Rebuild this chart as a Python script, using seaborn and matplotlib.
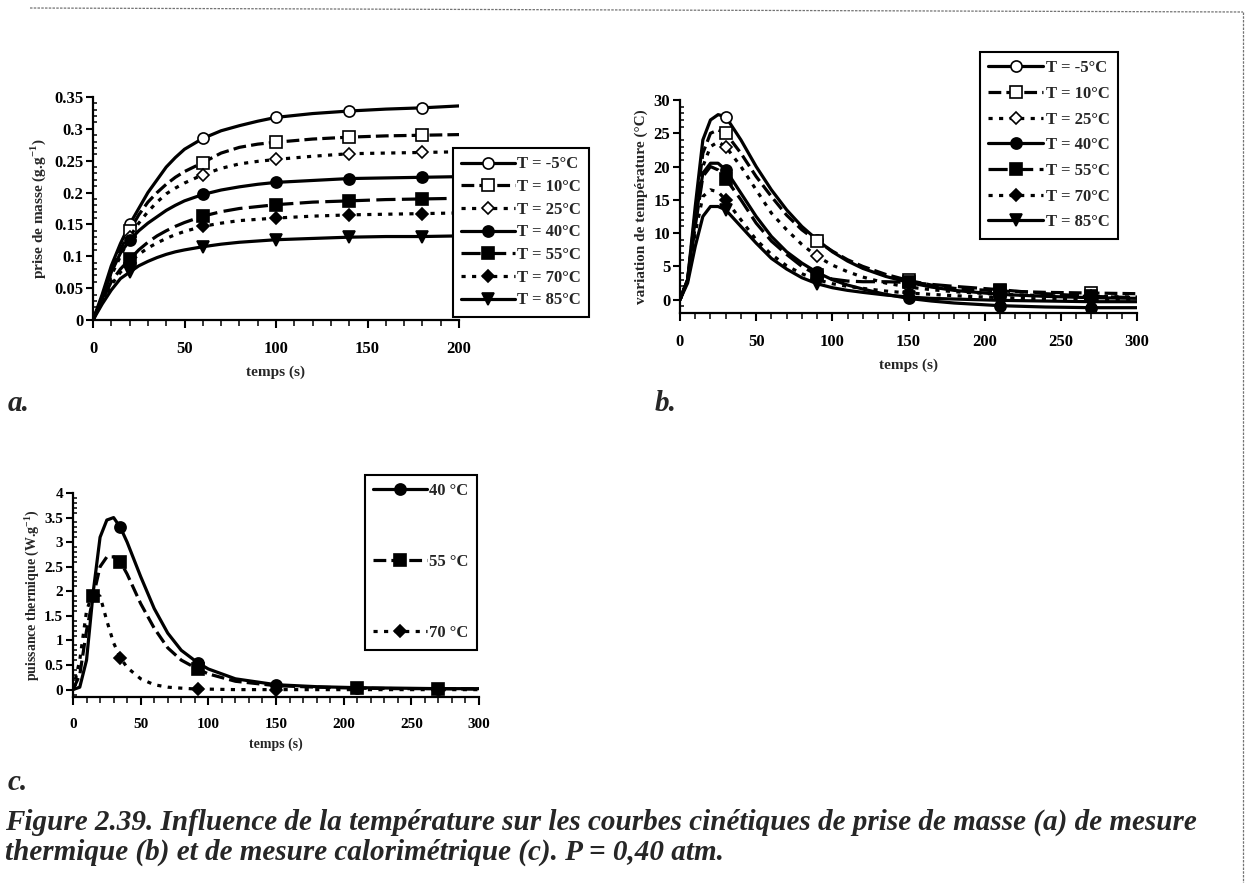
import seaborn as sns
import matplotlib.pyplot as plt
from matplotlib.ticker import MultipleLocator, FormatStrFormatter
from matplotlib.lines import Line2D

# ---- data ----
# a. prise de masse
t_a = [0, 5, 10, 15, 20, 25, 30, 35, 40, 45, 50, 60, 70, 80, 90, 100, 120, 140, 160, 180, 200]
m_m5 = [0, 0.04, 0.085, 0.12, 0.15, 0.175, 0.2, 0.22, 0.24, 0.255, 0.268, 0.285, 0.297, 0.305, 0.312, 0.318, 0.324, 0.328, 0.331, 0.333, 0.336]
m_10 = [0, 0.035, 0.075, 0.11, 0.14, 0.165, 0.185, 0.2, 0.213, 0.224, 0.233, 0.247, 0.262, 0.271, 0.276, 0.279, 0.284, 0.287, 0.289, 0.290, 0.291]
m_25 = [0, 0.032, 0.07, 0.1, 0.13, 0.152, 0.17, 0.185, 0.198, 0.207, 0.215, 0.228, 0.238, 0.245, 0.249, 0.252, 0.257, 0.261, 0.262, 0.263, 0.264]
m_40 = [0, 0.035, 0.075, 0.105, 0.125, 0.14, 0.152, 0.162, 0.172, 0.18, 0.187, 0.197, 0.204, 0.209, 0.213, 0.216, 0.219, 0.222, 0.223, 0.224, 0.225]
m_55 = [0, 0.03, 0.06, 0.08, 0.095, 0.11, 0.122, 0.132, 0.14, 0.147, 0.153, 0.163, 0.17, 0.175, 0.178, 0.181, 0.185, 0.187, 0.189, 0.190, 0.191]
m_70 = [0, 0.028, 0.055, 0.075, 0.09, 0.103, 0.113, 0.121, 0.128, 0.134, 0.139, 0.147, 0.152, 0.156, 0.158, 0.160, 0.163, 0.165, 0.166, 0.167, 0.168]
m_85 = [0, 0.025, 0.047, 0.065, 0.075, 0.085, 0.092, 0.098, 0.103, 0.107, 0.11, 0.115, 0.119, 0.122, 0.124, 0.126, 0.128, 0.13, 0.131, 0.131, 0.132]

# b. variation de temperature
t_b = [0, 5, 10, 15, 20, 25, 30, 40, 50, 60, 70, 80, 90, 100, 110, 120, 135, 150, 165, 180, 210, 240, 270, 300]
d_m5 = [0, 3, 14, 24, 27, 27.8, 27.5, 24, 20, 16.5, 13.5, 11, 9, 7.2, 5.8, 4.7, 3.5, 2.6, 1.9, 1.4, 0.8, 0.5, 0.3, 0.2]
d_10 = [0, 3, 13, 22, 25, 25.5, 25, 22, 18.5, 15.5, 12.7, 10.5, 8.8, 7.3, 6, 5, 3.8, 2.9, 2.2, 1.7, 1.3, 1.1, 1.0, 0.9]
d_25 = [0, 3, 12, 20, 23, 23.7, 23, 20, 16.5, 13, 10.5, 8.3, 6.5, 5.2, 4.2, 3.4, 2.5, 1.9, 1.5, 1.2, 0.8, 0.6, 0.5, 0.4]
d_40 = [0, 3, 12, 19, 20.5, 20.5, 19.5, 16, 12.5, 9.5, 7.2, 5.5, 4.1, 3.0, 2.2, 1.6, 0.8, 0.2, -0.2, -0.5, -0.9, -1.1, -1.2, -1.2]
d_55 = [0, 3, 11, 18.5, 20, 19.5, 18.2, 15, 11.5, 8.8, 6.8, 5.0, 3.7, 3.1, 2.8, 2.7, 2.7, 2.6, 2.3, 2.0, 1.5, 0.9, 0.5, 0.3]
d_70 = [0, 3, 10, 15.5, 16.5, 16.2, 15, 12, 9, 6.8, 5.1, 3.9, 3.0, 2.4, 2.0, 1.7, 1.3, 1.0, 0.8, 0.6, 0.3, 0.1, 0.0, 0.0]
d_85 = [0, 2.5, 8, 12.5, 14, 14, 13.5, 11, 8.5, 6.2, 4.6, 3.3, 2.4, 1.8, 1.4, 1.1, 0.7, 0.4, 0.2, 0.1, -0.1, -0.2, -0.3, -0.3]

# c. puissance thermique
t_c = [0, 5, 10, 15, 20, 25, 30, 35, 40, 50, 60, 70, 80, 92, 100, 120, 150, 180, 210, 240, 270, 300]
p_40 = [0, 0.05, 0.6, 2.0, 3.1, 3.45, 3.5, 3.3, 3.0, 2.3, 1.65, 1.15, 0.8, 0.55, 0.42, 0.22, 0.1, 0.06, 0.04, 0.03, 0.02, 0.02]
p_55 = [0, 0.3, 1.2, 1.9, 2.5, 2.7, 2.7, 2.6, 2.35, 1.75, 1.25, 0.85, 0.6, 0.42, 0.32, 0.17, 0.08, 0.05, 0.03, 0.02, 0.02, 0.01]
p_70 = [0, 0.6, 1.6, 2.0, 1.9, 1.4, 0.95, 0.65, 0.45, 0.22, 0.1, 0.05, 0.03, 0.01, 0.01, 0.0, 0.0, 0.0, 0.0, 0.0, 0.0, 0.0]

labels_T = ['T = -5°C', 'T = 10°C', 'T = 25°C', 'T = 40°C', 'T = 55°C', 'T = 70°C', 'T = 85°C']
labels_c = ['40 °C', '55 °C', '70 °C']

# style per temperature: linestyle, marker, filled
SOLID = '-'
DASH = (0, (4, 1.6))
LDASH = (0, (6, 2))
DOT = (0, (1.3, 2.0))
styles = [(SOLID, 'o', False), (DASH, 's', False), (DOT, 'D', False),
          (SOLID, 'o', True), (LDASH, 's', True), (DOT, 'D', True), (SOLID, 'v', True)]

sns.set_theme(style='ticks')
plt.rcParams['font.family'] = ['Liberation Serif', 'DejaVu Serif']
plt.rcParams['font.weight'] = 'bold'
plt.rcParams['mathtext.fontset'] = 'custom'
plt.rcParams['mathtext.rm'] = 'Liberation Serif:bold'
plt.rcParams['mathtext.bf'] = 'Liberation Serif:bold'

fig = plt.figure(figsize=(12.48, 8.83), dpi=100)
W, H = 1248, 883


def px_axes(l, t, r, b):
    return fig.add_axes([l / W, 1 - b / H, (r - l) / W, (b - t) / H])


def draw(ax, t, y, st, idx, lab):
    ls, mk, filled = st
    sns.lineplot(x=t, y=y, ax=ax, color='black', lw=2.3, linestyle=ls,
                 marker=mk, markevery=idx, markersize=8 if mk != 'D' else 6.5,
                 markerfacecolor='black' if filled else 'white',
                 markeredgecolor='black', markeredgewidth=1.2, label=lab,
                 legend=False, sort=False)


def handle(st, lab):
    ls, mk, filled = st
    return Line2D([], [], color='black', lw=2.3, linestyle=ls, marker=mk,
                  markersize=8 if mk != 'D' else 6.5,
                  markerfacecolor='black' if filled else 'white',
                  markeredgecolor='black', markeredgewidth=1.2, label=lab)


def style_axes(ax, xmaj, xmin, ymaj, ymin, fmt):
    sns.despine(ax=ax)
    for s in ['left', 'bottom']:
        ax.spines[s].set_linewidth(1.6)
        ax.spines[s].set_color('black')
    ax.xaxis.set_major_locator(MultipleLocator(xmaj))
    ax.xaxis.set_minor_locator(MultipleLocator(xmin))
    ax.yaxis.set_major_locator(MultipleLocator(ymaj))
    ax.yaxis.set_minor_locator(MultipleLocator(ymin))
    ax.yaxis.set_major_formatter(FormatStrFormatter(fmt))
    ax.tick_params(axis='x', which='major', direction='out', length=6, width=1.5,
                   labelsize=12, pad=9, colors='black')
    ax.tick_params(axis='x', which='minor', direction='out', length=4, width=1.3)
    ax.tick_params(axis='y', which='major', direction='out', length=5, width=1.5,
                   labelsize=12, pad=2, colors='black')
    ax.tick_params(axis='y', which='minor', direction='in', length=3, width=1.3)
    for lbl in ax.get_xticklabels() + ax.get_yticklabels():
        lbl.set_fontweight('bold')


# ---- a ----
ax_a = px_axes(93, 97, 459, 320)
series_a = [m_m5, m_10, m_25, m_40, m_55, m_70, m_85]
for y, st, lab in zip(series_a, styles, labels_T):
    draw(ax_a, t_a, y, st, [4, 11, 15, 17, 19], lab)
ax_a.set_xlim(0, 200)
ax_a.set_ylim(0, 0.35)
style_axes(ax_a, 50, 10, 0.05, 0.01, '%g')
ax_a.set_xlabel('temps (s)', fontsize=11, fontweight='bold', labelpad=6)
ax_a.set_ylabel('prise de masse (g.g$^{-1}$)', fontsize=11, fontweight='bold', labelpad=4)

# ---- b ----
ax_b = px_axes(680, 100, 1137, 313)
series_b = [d_m5, d_10, d_25, d_40, d_55, d_70, d_85]
for y, st, lab in zip(series_b, styles, labels_T):
    draw(ax_b, t_b, y, st, [6, 12, 17, 20, 22], lab)
ax_b.set_xlim(0, 300)
ax_b.set_ylim(-2, 30)
style_axes(ax_b, 50, 10, 5, 1, '%g')
ax_b.set_xlabel('temps (s)', fontsize=11, fontweight='bold', labelpad=6)
ax_b.set_ylabel('variation de température (°C)', fontsize=11, fontweight='bold', labelpad=4)

# ---- c ----
ax_c = px_axes(73, 493, 479, 697)
styles_c = [styles[3], (DASH, 's', True), styles[5]]
series_c = [p_40, p_55, p_70]
marks_c = [[7, 13, 16, 18, 20], [3, 7, 13, 18, 20], [7, 13, 16]]
for y, st, lab, idx in zip(series_c, styles_c, labels_c, marks_c):
    draw(ax_c, t_c, y, st, idx, lab)
ax_c.set_xlim(0, 300)
ax_c.set_ylim(-0.15, 4)
style_axes(ax_c, 50, 10, 0.5, 0.1, '%g')
ax_c.tick_params(axis='both', which='major', labelsize=11)
ax_c.set_xlabel('temps (s)', fontsize=10, fontweight='bold', labelpad=5)
ax_c.set_ylabel('puissance thermique (W.g$^{-1}$)', fontsize=10, fontweight='bold', labelpad=2)

# ---- legends ----
leg_kw = dict(frameon=True, fancybox=False, edgecolor='black', framealpha=1,
              borderaxespad=0, handletextpad=0.15, borderpad=0.5,
              prop={'family': 'Liberation Serif', 'weight': 'bold', 'size': 12})
la = fig.legend(handles=[handle(s, l) for s, l in zip(styles, labels_T)],
                loc='upper left', bbox_to_anchor=(453 / W, 1 - 148 / H),
                handlelength=3.2, labelspacing=0.40, **leg_kw)
lb = fig.legend(handles=[handle(s, l) for s, l in zip(styles, labels_T)],
                loc='upper left', bbox_to_anchor=(980 / W, 1 - 52 / H),
                handlelength=3.3, labelspacing=0.58, **leg_kw)
lc = fig.legend(handles=[handle(s, l) for s, l in zip(styles_c, labels_c)],
                loc='upper left', bbox_to_anchor=(365 / W, 1 - 475 / H),
                handlelength=3.2, labelspacing=3.3, **leg_kw)
for lg in (la, lb, lc):
    lg.get_frame().set_linewidth(1.5)

# ---- panel letters and caption ----
pl = dict(fontsize=21, fontweight='bold', style='italic', ha='left', va='center')
fig.text(8 / W, 1 - 403 / H, 'a.', **pl)
fig.text(655 / W, 1 - 403 / H, 'b.', **pl)
fig.text(8 / W, 1 - 783 / H, 'c.', **pl)
cap = dict(fontsize=21, fontweight='bold', style='italic', ha='left', va='center')
fig.text(5 / W, 1 - 822 / H,
         'Figure 2.39. Influence de la température sur les courbes cinétiques de prise de masse (a) de mesure',
         **cap)
fig.text(5 / W, 1 - 852 / H,
         'thermique (b) et de mesure calorimétrique (c). P = 0,40 atm.', **cap)

# scan border lines
fig.add_artist(Line2D([30 / W, 1243 / W], [1 - 8 / H, 1 - 12 / H], color='0.45', lw=0.9, ls=(0, (2, 1))))
fig.add_artist(Line2D([1243 / W, 1243 / W], [1 - 12 / H, 0], color='0.45', lw=0.9, ls=(0, (2, 1))))

fig.savefig('out.png', dpi=100, facecolor='white')
